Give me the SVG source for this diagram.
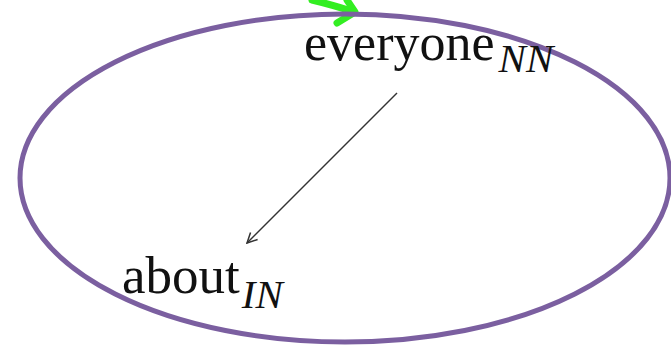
<svg xmlns="http://www.w3.org/2000/svg" width="671" height="347" viewBox="0 0 671 347">
<style>
.lbl{font-family:"Liberation Serif","Times New Roman",serif;fill:#111;}
.sub{font-family:"Liberation Serif","Times New Roman",serif;font-style:italic;fill:#111;}
</style>
<defs>
<marker id="ah" viewBox="0 0 12 12" refX="11" refY="6" markerWidth="12" markerHeight="12" markerUnits="userSpaceOnUse" orient="auto">
<path d="M1,1 L11,6 L1,11" fill="none" stroke="#333" stroke-width="1.5"/>
</marker>
</defs>
<rect width="671" height="347" fill="#fff"/>
<g id="incoming">
<path d="M312,0 Q337,6 354,12" fill="none" stroke="#33ee22" stroke-width="7" stroke-linecap="round"/>
<path d="M347,0 L355,12 L337,23" fill="none" stroke="#33ee22" stroke-width="7" stroke-linecap="round" stroke-linejoin="round"/>
</g>
<g id="group">
<ellipse cx="345" cy="178" rx="325" ry="164" fill="none" stroke="#7b5fa0" stroke-width="5"/>
</g>
<g id="connectors">
<line x1="397" y1="93" x2="247" y2="243" stroke="#333" stroke-width="1.5" marker-end="url(#ah)"/>
</g>
<g id="everyone">
<text x="304" y="60" class="lbl" font-size="52">everyone<tspan class="sub" font-size="41" dx="4" dy="12">NN</tspan></text>
</g>
<g id="about">
<text x="122" y="293" class="lbl" font-size="53">about<tspan class="sub" font-size="41" dx="2" dy="15">IN</tspan></text>
</g>
</svg>
